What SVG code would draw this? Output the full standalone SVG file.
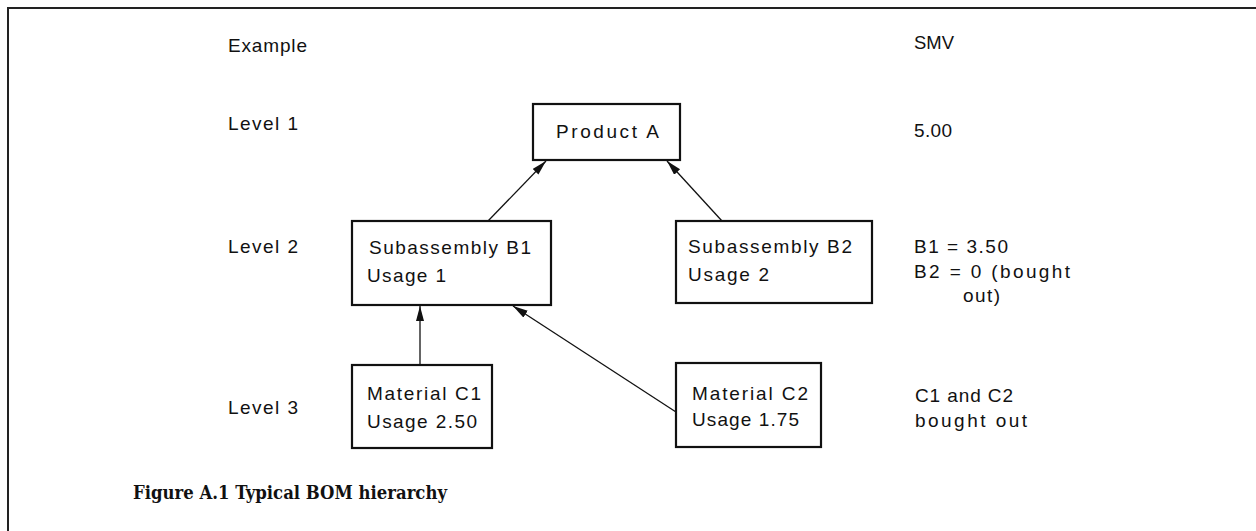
<svg xmlns="http://www.w3.org/2000/svg" width="1256" height="531" viewBox="0 0 1256 531">
<defs>
<style>
.t{font-family:"Liberation Sans",Arial,sans-serif;font-size:19px;fill:#111;}
.box{fill:#fff;stroke:#111;stroke-width:2.2;}
.con{stroke:#111;stroke-width:1.3;fill:none;marker-end:url(#arr);}
.cap{font-family:"DejaVu Serif","Liberation Serif",serif;font-weight:bold;font-size:19px;fill:#111;}
</style>
<marker id="arr" markerUnits="userSpaceOnUse" markerWidth="16" markerHeight="10" refX="15" refY="4" orient="auto">
<path d="M0,0 L15,4 L0,8 Z" fill="#111"/>
</marker>
</defs>
<rect width="1256" height="531" fill="#fff"/>
<g id="frame">
<line x1="7" y1="8" x2="1256" y2="8" stroke="#222" stroke-width="2"/>
<line x1="8" y1="7" x2="8" y2="531" stroke="#222" stroke-width="2"/>
</g>
<g id="labels">
<text class="t" x="228" y="52" textLength="79" lengthAdjust="spacing">Example</text>
<text class="t" x="228" y="130" textLength="70" lengthAdjust="spacing">Level 1</text>
<text class="t" x="228" y="253" textLength="70" lengthAdjust="spacing">Level 2</text>
<text class="t" x="228" y="414" textLength="70" lengthAdjust="spacing">Level 3</text>
<text class="t" x="914" y="49" textLength="40" lengthAdjust="spacingAndGlyphs">SMV</text>
<text class="t" x="914" y="137" textLength="38" lengthAdjust="spacing">5.00</text>
<text class="t" x="914" y="253" textLength="94" lengthAdjust="spacing">B1 = 3.50</text>
<text class="t" x="914" y="278" textLength="156" lengthAdjust="spacing">B2 = 0 (bought</text>
<text class="t" x="963" y="302" textLength="37" lengthAdjust="spacing">out)</text>
<text class="t" x="915" y="402" textLength="98" lengthAdjust="spacing">C1 and C2</text>
<text class="t" x="915" y="427" textLength="112" lengthAdjust="spacing">bought out</text>
</g>
<g id="connectors">
<line class="con" x1="420" y1="365" x2="420" y2="306"/>
<line class="con" x1="676" y1="412" x2="513" y2="306"/>
<line class="con" x1="488" y1="221" x2="546" y2="161"/>
<line class="con" x1="722" y1="221" x2="667" y2="161"/>
</g>
<g id="productA">
<rect class="box" x="533" y="104" width="147" height="56"/>
<text class="t" x="556" y="138" textLength="103" lengthAdjust="spacing">Product  A</text>
</g>
<g id="subB1">
<rect class="box" x="352" y="221" width="199" height="84"/>
<text class="t" x="369" y="254" textLength="162" lengthAdjust="spacing">Subassembly B1</text>
<text class="t" x="367" y="282" textLength="79" lengthAdjust="spacing">Usage 1</text>
</g>
<g id="subB2">
<rect class="box" x="676" y="221" width="196" height="82"/>
<text class="t" x="688" y="253" textLength="164" lengthAdjust="spacing">Subassembly B2</text>
<text class="t" x="688" y="281" textLength="81" lengthAdjust="spacing">Usage 2</text>
</g>
<g id="matC1">
<rect class="box" x="352" y="365" width="140" height="83"/>
<text class="t" x="367" y="400" textLength="114" lengthAdjust="spacing">Material C1</text>
<text class="t" x="367" y="428" textLength="110" lengthAdjust="spacing">Usage 2.50</text>
</g>
<g id="matC2">
<rect class="box" x="676" y="363" width="145" height="84"/>
<text class="t" x="692" y="400" textLength="116" lengthAdjust="spacing">Material C2</text>
<text class="t" x="692" y="426" textLength="107" lengthAdjust="spacing">Usage 1.75</text>
</g>
<g id="caption">
<text class="cap" x="133" y="499" textLength="314" lengthAdjust="spacingAndGlyphs">Figure A.1 Typical BOM hierarchy</text>
</g>
</svg>
